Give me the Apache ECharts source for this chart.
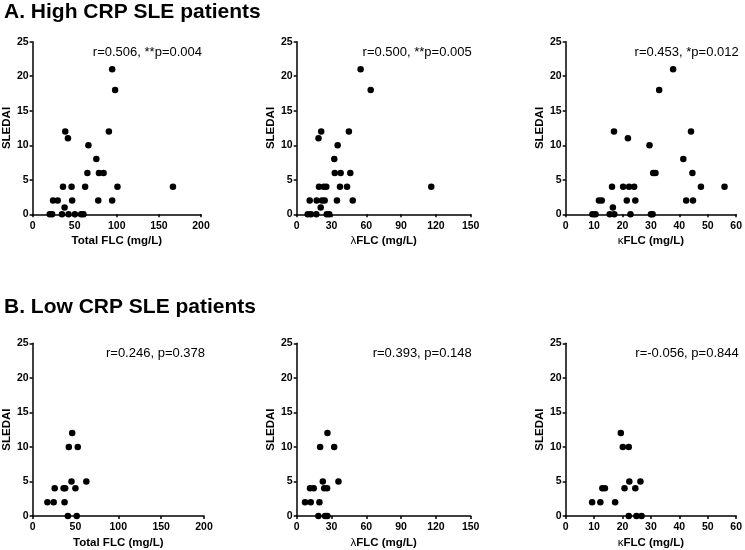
<!DOCTYPE html>
<html>
<head>
<meta charset="utf-8">
<script src="https://cdn.jsdelivr.net/npm/echarts@6/dist/echarts.min.js"></script>
<style>html,body{margin:0;padding:0;background:#fff}#c{width:745px;height:550px}</style>
</head>
<body>
<div id="c"></div>
<script>
// ---- Data (x = FLC mg/L, y = SLEDAI) ----
const highTotalX = [20.4,23.2,34.9,42.7,50.2,57.6,60.4, 24.3,29.8,47,78,94.5, 38, 36.1,46.3,62.4,100.8,166.7, 65.1,78.8,84.3, 75.7, 66.3, 42, 38.8,90.6, 98, 94.5];
const highTotalY = [0,0,0,0,0,0,0, 2,2,2,2,2, 1, 4,4,4,4,4, 6,6,6, 8, 10, 11, 12,12, 18, 21];

const highLambdaX = [9.5,12.3,16.9,25.9,28.1, 11.2,17.2,21.8,24.1,34.7,48.3, 20.7, 19.2,23.3,25.5,37.3,43.4,116, 32.8,37.9,46.2, 32.4, 35.3, 18.8, 21.1,45, 63.8, 55.1];
const highLambdaY = [0,0,0,0,0, 2,2,2,2,2,2, 1, 4,4,4,4,4,4, 6,6,6, 8, 10, 11, 12,12, 18, 21];

const highKappaX = [9.4,10.5,15.5,17.1,22.8,30,30.6, 11.7,12.7,21.5,24.5,42.4,44.8, 16.6, 16.3,20.2,22.3,24.1,47.6,55.9, 30.8,31.6,44.6, 41.4, 29.5, 21.9, 17,44.1, 32.9, 37.8];
const highKappaY = [0,0,0,0,0,0,0, 2,2,2,2,2,2, 1, 4,4,4,4,4,4, 6,6,6, 8, 10, 11, 12,12, 18, 21];

const lowTotalX = [17.3,24.6,37.3, 25.8,36.2,38,50, 41.2,51.5, 45.4,62.7, 42.3,52.7, 46.2];
const lowTotalY = [2,2,2, 4,4,4,4, 0,0, 5,5, 10,10, 12];

const lowLambdaX = [7.2,12.1,19.6, 11.5,14.7,23.7,26.2, 18.7,24.5,26.5, 22.5,36, 20.2,32.3, 26.5];
const lowLambdaY = [2,2,2, 4,4,4,4, 0,0,0, 5,5, 10,10, 12];

const lowKappaX = [9.3,12.2,17.4, 12.9,13.8,20.7,24.5, 22.2,24.9,26.7, 22.4,26.3, 20.1,22.2, 19.4];
const lowKappaY = [2,2,2, 4,4,4,4, 0,0,0, 5,5, 10,10, 12];

const yTicksMax = 25, yTickStep = 5;
const xMaxs = [200, 150, 60];
const xSteps = [50, 30, 10];
const xNames = ['Total FLC (mg/L)', '{g|λ}FLC (mg/L)', '{g|κ}FLC (mg/L)'];
const yName = 'SLEDAI';
const statsHigh = ['r=0.506, **p=0.004', 'r=0.500, **p=0.005', 'r=0.453, *p=0.012'];
const statsLow = ['r=0.246, p=0.378', 'r=0.393, p=0.148', 'r=-0.056, p=0.844'];
const panelTitles = ['A. High CRP SLE patients', 'B. Low CRP SLE patients'];

// ---- Layout ----
const FONT = '"Liberation Sans", Arial, sans-serif';
const lefts = [31, 296.7, 565.7];
const widthsTop = [170, 174, 172];
const widthsBot = [173, 174, 172];
const tops = [41.7, 343.3];
const heights = [172.6, 172.7];

const seriesData = [
  [highTotalX, highTotalY], [highLambdaX, highLambdaY], [highKappaX, highKappaY],
  [lowTotalX, lowTotalY], [lowLambdaX, lowLambdaY], [lowKappaX, lowKappaY]
];

const grids = [], xAxes = [], yAxes = [], series = [], graphics = [];
for (let r = 0; r < 2; r++) {
  for (let c = 0; c < 3; c++) {
    const i = r * 3 + c;
    const w = r === 0 ? widthsTop[c] : widthsBot[c];
    grids.push({ left: lefts[c], top: tops[r], width: w, height: heights[r], containLabel: false });
    const axisCommon = {
      axisLine: { show: true, onZero: false, lineStyle: { color: '#000', width: 1.5 } },
      axisTick: { show: true, length: 3, lineStyle: { color: '#000', width: 1.5 } },
      splitLine: { show: false },
      axisLabel: { color: '#000', fontFamily: FONT, fontWeight: 'bold', fontSize: 10.5, margin: 4 }
    };
    xAxes.push(Object.assign({}, axisCommon, {
      type: 'value', gridIndex: i, min: 0, max: xMaxs[c], interval: xSteps[c],
      axisLabel: { color: '#000', fontFamily: FONT, fontWeight: 'bold', fontSize: 10.5, margin: 6 },
      name: xNames[c], nameLocation: 'middle', nameGap: 21,
      nameTextStyle: { color: '#000', fontFamily: FONT, fontWeight: 'bold', fontSize: 11.5,
        rich: { g: { fontFamily: FONT, fontWeight: 'normal', fontSize: 11.5, color: '#000' } } }
    }));
    yAxes.push(Object.assign({}, axisCommon, {
      type: 'value', gridIndex: i, min: 0, max: yTicksMax, interval: yTickStep,
      name: yName, nameLocation: 'middle', nameGap: 16, nameRotate: 90,
      nameTextStyle: { color: '#000', fontFamily: FONT, fontWeight: 'bold', fontSize: 11.5 }
    }));
    const xs = seriesData[i][0], ys = seriesData[i][1];
    series.push({
      type: 'scatter', xAxisIndex: i, yAxisIndex: i, clip: false,
      symbol: 'circle', symbolSize: 6.5, itemStyle: { color: '#000', opacity: 1 },
      data: xs.map((x, k) => [x, ys[k]]), z: 5
    });
    graphics.push({
      type: 'text', right: 745 - (lefts[c] + w) - 1, top: tops[r] + 4,
      style: { text: (r === 0 ? statsHigh : statsLow)[c], fill: '#000', font: '13px ' + FONT }
    });
  }
}
graphics.push({ type: 'text', left: 4, top: 2, style: { text: panelTitles[0], fill: '#000', font: 'bold 21px ' + FONT } });
graphics.push({ type: 'text', left: 4, top: 297, style: { text: panelTitles[1], fill: '#000', font: 'bold 21px ' + FONT } });

const chart = echarts.init(document.getElementById('c'), null, { renderer: 'canvas' });
chart.setOption({
  animation: false,
  backgroundColor: '#fff',
  grid: grids, xAxis: xAxes, yAxis: yAxes, series: series, graphic: graphics
});
</script>
</body>
</html>
